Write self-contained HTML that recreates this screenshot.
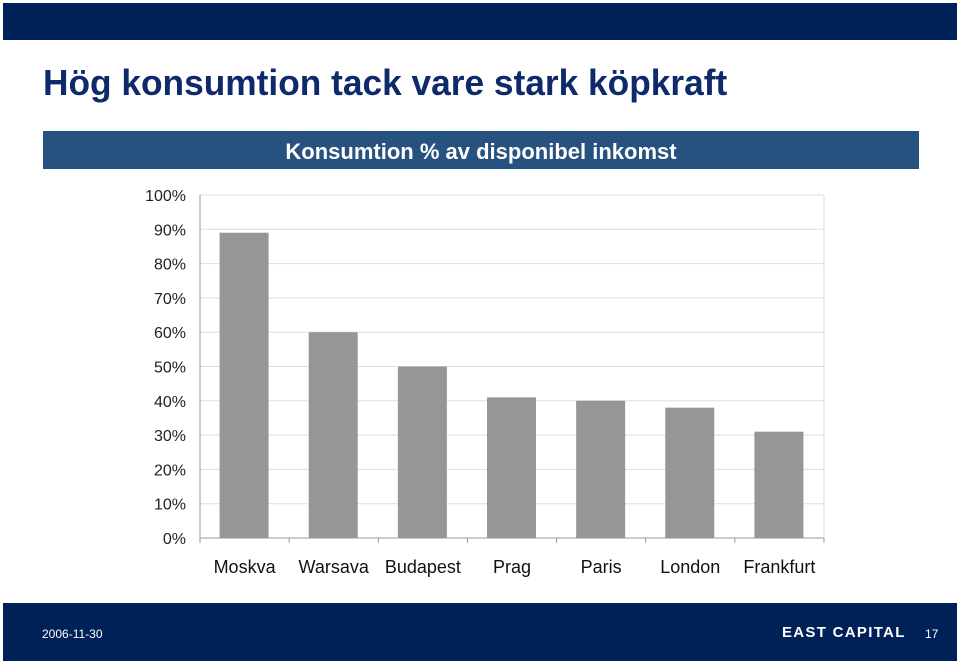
<!DOCTYPE html>
<html><head><meta charset="utf-8"><style>
body{margin:0;width:960px;height:664px;background:#fff;font-family:"Liberation Sans",sans-serif;position:relative;overflow:hidden}
div{position:absolute}
</style></head><body>
<div style="left:3px;top:3px;width:954px;height:37px;background:#002157"></div>
<div style="left:43px;top:62px;font-size:36px;font-weight:bold;color:#0f2a6a;white-space:nowrap;transform:scaleX(0.98);transform-origin:left">Hög konsumtion tack vare stark köpkraft</div>
<div style="left:43px;top:131px;width:876px;height:38px;background:#27527f"></div>
<div style="left:43px;top:139px;width:876px;text-align:center;font-size:22px;font-weight:bold;color:#fff">Konsumtion % av disponibel inkomst</div>
<svg width="960" height="600" style="position:absolute;left:0;top:0" id="chart"></svg>
<div style="left:3px;top:603px;width:954px;height:58px;background:#002157"></div>
<div style="left:42px;top:627px;font-size:12px;color:#fff">2006-11-30</div>
<div style="left:782px;top:624px;font-size:15px;font-weight:bold;color:#fff;letter-spacing:1.3px">EAST CAPITAL</div>
<div style="left:925px;top:627px;font-size:12px;color:#fff">17</div>
<script>
const categories=["Moskva","Warsava","Budapest","Prag","Paris","London","Frankfurt"];
const values=[89,60,50,41,40,38,31];
const tickLabels=["0%","10%","20%","30%","40%","50%","60%","70%","80%","90%","100%"];
const svg=document.getElementById('chart');const NS="http://www.w3.org/2000/svg";
const x0=200,x1=824,y0=538,y1=195;
const yS=v=>y0-(v/100)*(y0-y1);
const cw=(x1-x0)/categories.length;
function mk(t,a){const e=document.createElementNS(NS,t);for(const k in a)e.setAttribute(k,a[k]);svg.appendChild(e);return e;}
tickLabels.forEach((lab,i)=>{const v=i*10;const y=yS(v);
const g=mk('line',{x1:x0,x2:x1,y1:y,y2:y,stroke:i==0?'#999':'#ddd','stroke-width':1});


const t=mk('text',{x:186,y:y+6,'text-anchor':'end','font-size':16,fill:'#222','font-family':'Liberation Sans, sans-serif'});
t.textContent=lab;

});
const ax=mk('line',{x1:x0,x2:x0,y1:y1,y2:y0+5,stroke:'#999'});


mk('line',{x1:x1,x2:x1,y1:y1,y2:y0,stroke:'#ddd'});
categories.forEach((c,i)=>{const cx=x0+cw*(i+0.5);
mk('line',{x1:x0+cw*(i+1),x2:x0+cw*(i+1),y1:y0,y2:y0+5,stroke:'#999'});
const b=mk('rect',{x:cx-25,y:yS(values[i]),width:49,height:y0-yS(values[i]),fill:'#969696'});


const t=mk('text',{x:cx,y:573,'text-anchor':'middle','font-size':18,fill:'#111','font-family':'Liberation Sans, sans-serif'});
t.textContent=c;

});
</script>
</body></html>
